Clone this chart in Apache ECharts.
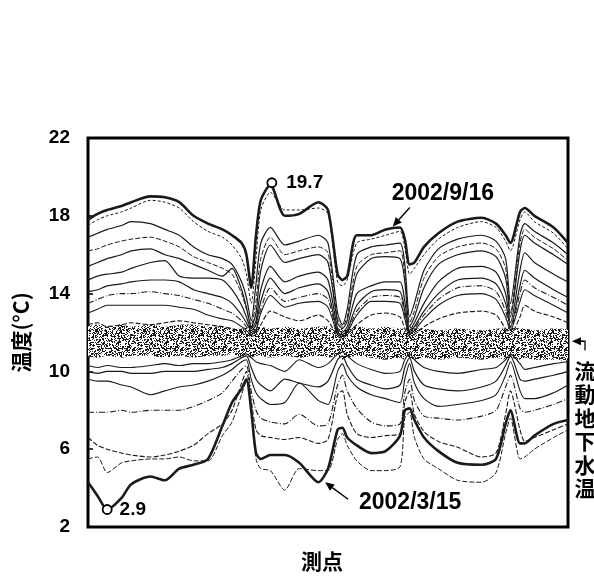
<!DOCTYPE html>
<html><head><meta charset="utf-8">
<script src="https://cdn.jsdelivr.net/npm/echarts@6/dist/echarts.min.js"></script>
<style>html,body{margin:0;padding:0;background:#fff}#c{width:594px;height:577px}</style>
</head><body><div id="c"></div><script>
// measurement point positions (0..100 along the section)
const points = [0,2,4,7,9,13,16,19,22,25,28,30,32,33,34,35,36,38,41,44,48,50,52,53,54,56,59,62,65,66,67,68,70,73,77,82,85,87,88,90,91,93,97,100];
const yTicks = [2,6,10,14,18,22];

// 2002/9/16 (summer maximum profile)
const sep16 = [17.8,18.1,18.3,18.5,18.7,19.0,18.95,18.7,18.0,17.6,17.3,17.0,16.6,16.0,14.3,17.0,18.8,19.6,18.0,18.1,18.7,18.3,15.0,14.7,14.9,17.0,17.0,17.3,17.4,16.8,15.5,15.6,16.4,17.1,17.7,17.9,17.6,17.0,16.6,18.2,18.4,18.0,17.4,16.6];
// 2002/3/15 (winter minimum profile)
const mar15 = [4.3,3.6,2.9,3.5,4.2,4.6,4.4,5.0,5.2,5.5,7.2,8.4,9.1,9.6,8.0,5.8,5.5,5.7,5.7,5.3,4.3,5.0,7.0,7.1,6.6,6.2,5.8,5.9,6.7,8.0,8.1,7.5,6.6,5.9,5.3,5.2,5.5,7.3,8.0,6.3,6.3,6.7,7.3,7.5];

// other warm-season profiles
const u1 = [17.5,17.8,18.0,18.2,18.4,18.8,18.7,18.4,17.7,17.2,16.9,16.5,15.8,15.0,13.5,15.8,18.3,19.2,18.3,18.3,18.4,18.1,14.6,14.4,14.7,16.6,16.8,17.0,17.2,16.4,15.0,15.3,16.0,16.8,17.4,17.7,17.4,16.7,16.2,17.8,18.2,17.7,17.1,16.3];
const u2 = [16.9,17.1,17.3,17.5,17.7,17.6,17.3,17.0,16.4,16.0,15.8,15.5,14.6,13.8,12.6,14.5,16.6,17.4,16.5,16.7,17.0,16.6,13.0,12.4,13.2,16.0,16.4,16.5,16.6,15.5,12.8,13.5,15.2,16.3,16.8,17.0,16.7,15.8,13.5,17.0,17.6,17.2,16.6,16.0];
const u2b = [16.2,16.3,16.5,16.7,16.8,16.9,16.7,16.4,15.9,15.6,15.3,15.0,14.0,13.2,12.4,13.6,15.8,16.9,16.0,16.2,16.4,16.1,12.7,12.3,12.8,15.4,16.0,16.1,16.2,15.0,12.5,13.1,14.8,15.9,16.4,16.6,16.3,15.3,13.0,16.6,17.3,16.9,16.3,15.7];
const u3 = [15.4,15.6,15.8,16.0,16.2,16.3,16.0,15.8,15.5,15.2,14.9,15.3,14.2,13.3,12.3,13.0,15.2,16.5,15.6,15.8,16.0,15.6,12.5,12.2,12.6,15.0,15.8,15.9,15.8,14.6,12.3,12.8,14.3,15.5,16.0,16.2,15.9,14.8,12.8,16.2,17.0,16.6,16.0,15.5];
const u4 = [14.7,14.9,15.0,15.1,15.3,15.6,15.7,14.9,14.8,14.8,14.7,14.2,13.4,12.8,12.2,12.6,14.2,15.4,14.6,14.9,15.1,14.7,12.2,12.0,12.3,14.0,14.4,14.6,14.6,13.6,12.1,12.5,13.5,14.6,15.3,15.4,15.1,14.0,12.5,15.2,16.1,15.6,15.0,14.6];
const u5 = [14.1,14.2,14.4,14.5,14.6,14.7,14.7,14.6,14.2,14.0,13.8,13.5,12.9,12.5,12.1,12.4,13.6,14.8,14.0,14.3,14.5,14.1,12.0,11.9,12.1,13.4,14.1,14.2,14.1,13.1,12.0,12.3,13.1,14.0,14.7,14.8,14.5,13.5,12.3,14.4,15.2,14.8,14.2,13.8];
const u5b = [13.5,13.7,13.9,14.0,14.0,14.1,14.0,13.9,13.7,13.5,13.2,13.0,12.6,12.3,12.0,12.2,13.2,14.3,13.6,13.8,14.0,13.7,11.9,11.8,12.0,13.1,13.8,13.9,13.8,12.9,11.9,12.2,12.9,13.7,14.3,14.4,14.1,13.1,12.2,14.0,14.7,14.3,13.8,13.4];
const u6 = [13.0,13.2,13.4,13.4,13.4,13.4,13.4,13.3,13.2,12.9,12.7,12.6,12.3,12.1,11.9,12.1,13.0,13.9,13.3,13.5,13.6,13.3,11.9,11.8,12.0,12.9,13.6,13.6,13.5,12.7,11.9,12.1,12.7,13.4,13.9,14.0,13.7,12.8,12.1,13.6,14.2,13.9,13.4,13.0];
const u7 = [12.4,12.5,12.3,12.4,12.5,12.4,12.5,12.6,12.5,12.4,12.3,12.2,12.0,11.9,11.8,11.9,12.4,13.1,12.8,12.6,12.9,12.6,11.8,11.7,11.9,12.4,12.9,13.0,12.8,12.2,11.8,11.9,12.3,12.7,13.0,13.1,12.9,12.2,11.9,12.8,13.4,13.1,12.8,12.5];

// other cold-season profiles
const l1 = [10.3,10.2,10.3,10.2,10.2,10.3,10.4,10.3,10.4,10.4,10.5,10.6,10.8,10.9,10.7,10.5,10.4,10.3,10.0,10.6,10.2,10.4,10.9,11.0,10.8,10.4,10.1,9.9,10.0,10.6,10.9,10.6,10.2,10.0,9.9,10.1,10.2,10.6,10.9,10.4,10.1,10.2,10.4,10.5];
const l2 = [10.0,9.9,10.0,10.0,9.9,9.9,10.0,10.0,10.0,10.1,10.2,10.4,10.7,10.8,10.2,9.6,9.3,9.0,9.6,9.4,9.2,9.5,10.6,10.8,10.3,9.6,9.3,9.1,9.3,10.2,10.7,10.0,9.3,9.1,9.0,9.2,9.5,10.3,10.8,9.6,9.5,9.6,9.8,10.0];
const l3 = [9.6,9.5,9.5,9.3,9.2,8.8,9.0,9.2,9.3,9.5,9.8,10.1,10.5,10.6,9.6,8.9,8.6,8.3,8.4,9.4,8.5,8.3,10.0,10.4,9.8,9.2,8.8,8.6,8.4,9.6,10.4,9.4,8.6,8.2,8.3,8.5,8.8,9.8,10.5,9.0,8.6,8.6,8.9,9.3];
const l4 = [7.9,7.9,7.9,8.0,7.9,8.0,8.0,8.0,8.2,8.5,8.9,9.5,10.1,10.3,9.0,8.0,7.6,7.4,7.3,7.8,7.2,7.3,9.3,9.8,9.0,8.1,7.4,7.2,7.3,8.9,9.6,8.5,7.7,7.6,7.5,7.7,8.0,9.2,9.8,8.1,7.9,8.0,8.3,8.6];
const l5 = [6.6,6.2,6.0,5.8,5.7,5.6,5.7,5.9,6.2,6.8,7.3,8.0,9.4,10.0,8.5,7.0,6.7,6.6,6.5,6.6,6.3,6.5,8.8,9.0,7.8,6.8,6.6,6.7,6.8,8.4,9.0,7.8,6.9,6.4,6.1,5.6,5.8,7.8,9.0,7.0,6.4,6.6,7.0,7.3];
const l6 = [5.5,5.6,4.8,5.3,5.4,5.5,5.5,5.6,5.4,5.4,6.7,7.4,8.8,9.5,8.0,5.5,5.0,4.9,3.9,5.0,4.9,4.9,6.5,6.8,6.2,5.4,4.9,4.9,5.1,7.6,7.9,6.6,5.5,5.0,4.4,4.3,4.8,6.8,7.6,5.5,5.6,6.0,6.6,7.0];

// dense band of flowing-groundwater temperature records
const bandTop = [12.3,12.4,12.3,12.4,12.3,12.4,12.3,12.4,12.4,12.3,12.3,12.2,12.2,12.3,12.4,12.3,12.3,12.2,12.3,12.2,12.3,12.3,12.2,12.3,12.2,12.3,12.2,12.3,12.2,12.2,12.3,12.2,12.2,12.1,12.2,12.1,12.2,12.2,12.3,12.2,12.2,12.1,12.2,12.1];
const bandBottom = [10.8,10.7,10.8,10.7,10.8,10.8,10.7,10.8,10.7,10.8,10.8,10.9,10.7,10.8,10.7,10.8,10.8,10.7,10.8,10.7,10.8,10.7,10.8,10.6,10.7,10.8,10.7,10.6,10.7,10.6,10.7,10.6,10.7,10.6,10.7,10.6,10.7,10.6,10.7,10.6,10.7,10.6,10.6,10.6];

// annotated extremes
const maxPoint = [38.3, 19.7];
const minPoint = [4, 2.9];
const sepArrowTip = [63.5, 17.45];
const marArrowTip = [49.4, 4.3];
const groundwaterLevel = 11.55;

function stipple() {
  const c = document.createElement('canvas');
  c.width = 48; c.height = 48;
  const g = c.getContext('2d');
  g.fillStyle = '#fff'; g.fillRect(0, 0, 48, 48);
  g.fillStyle = '#1a1a1a';
  for (let y = 0; y < 48; y++) for (let x = 0; x < 48; x++) {
    let h = Math.imul(x + 7, 374761393) ^ Math.imul(y + 3, 668265263);
    h = Math.imul(h ^ (h >>> 13), 1274126177); h ^= h >>> 16;
    if (((h >>> 0) % 100) < 42) g.fillRect(x, y, 1, 1);
  }
  return c;
}
const stippleCanvas = stipple();

const mk = arr => points.map((p, i) => [p, arr[i]]);
const FONT = '"Liberation Sans", Arial, sans-serif';
const CJK = '"Noto Sans CJK JP", "Noto Sans CJK SC", sans-serif';

function lineSeries(arr, width, type) {
  return {
    type: 'line', data: mk(arr), symbol: 'none', smooth: 0.25, silent: true, z: 3,
    lineStyle: { color: '#1a1a1a', width: width, type: type || 'solid' }
  };
}

const bandSeries = {
  type: 'custom', silent: true, z: 1, clip: true,
  data: [0],
  renderItem: function (params, api) {
    const pts = [];
    for (let i = 0; i < points.length; i++) pts.push(api.coord([points[i], bandTop[i]]));
    for (let i = points.length - 1; i >= 0; i--) pts.push(api.coord([points[i], bandBottom[i]]));
    return {
      type: 'polygon',
      shape: { points: pts, smooth: 0.2 },
      style: { fill: { image: stippleCanvas, repeat: 'repeat' }, stroke: null }
    };
  }
};

const series = [
  bandSeries,
  lineSeries(u7, 1.1, [5, 2]),
  lineSeries(u6, 1.1),
  lineSeries(u5b, 1.1, [6, 2, 1, 2]),
  lineSeries(u5, 1.2),
  lineSeries(u4, 1.2),
  lineSeries(u3, 1.2),
  lineSeries(u2b, 1.0, [5, 2]),
  lineSeries(u2, 1.2),
  lineSeries(u1, 1.0, [3, 2]),
  lineSeries(l1, 1.1),
  lineSeries(l2, 1.2),
  lineSeries(l3, 1.1),
  lineSeries(l4, 1.1, [6, 2, 1, 2]),
  lineSeries(l5, 1.1, [5, 2]),
  lineSeries(l6, 1.0, [5, 2]),
  lineSeries(sep16, 2.6),
  lineSeries(mar15, 2.6),
  { type: 'scatter', data: [maxPoint], symbol: 'circle', symbolSize: 9, z: 6, silent: true,
    itemStyle: { color: '#fff', borderColor: '#000', borderWidth: 1.8, opacity: 1 },
    label: { show: true, position: 'right', distance: 9, formatter: '19.7',
      fontFamily: FONT, fontWeight: 'bold', fontSize: 19, color: '#000', textBorderWidth: 0 } },
  { type: 'scatter', data: [minPoint], symbol: 'circle', symbolSize: 9, z: 6, silent: true,
    itemStyle: { color: '#fff', borderColor: '#000', borderWidth: 1.8, opacity: 1 },
    label: { show: true, position: 'right', distance: 7, formatter: '2.9',
      fontFamily: FONT, fontWeight: 'bold', fontSize: 19, color: '#000', textBorderWidth: 0 } }
];

const chart = echarts.init(document.getElementById('c'), null, { renderer: 'canvas' });
chart.setOption({
  animation: false,
  backgroundColor: '#fff',
  grid: { left: 88, right: 26, top: 138, bottom: 47, show: true, borderColor: '#000', borderWidth: 3, backgroundColor: 'transparent' },
  xAxis: {
    type: 'value', min: 0, max: 100,
    axisLine: { show: false }, axisTick: { show: false }, axisLabel: { show: false }, splitLine: { show: false },
    name: '測点', nameLocation: 'middle', nameGap: 24,
    nameTextStyle: { fontFamily: CJK, fontWeight: 'bold', fontSize: 21, color: '#000', padding: [0, 12, 0, 0] }
  },
  yAxis: {
    type: 'value', min: yTicks[0], max: yTicks[yTicks.length - 1], interval: 4,
    axisLine: { show: false }, splitLine: { show: false },
    axisTick: { show: true, inside: true, length: 5, lineStyle: { color: '#000', width: 1.5 } },
    axisLabel: { margin: 18, fontFamily: FONT, fontWeight: 'bold', fontSize: 19, color: '#000' },
    name: '温度(°C)', nameLocation: 'middle', nameRotate: 90, nameGap: 56,
    nameTextStyle: { fontFamily: CJK, fontWeight: 'bold', fontSize: 21, color: '#000' }
  },
  series: series
});

function px(p) { return chart.convertToPixel({ gridIndex: 0 }, p); }
function arrow(tail, tip, w) {
  const dx = tip[0] - tail[0], dy = tip[1] - tail[1];
  const L = Math.hypot(dx, dy), ux = dx / L, uy = dy / L;
  const hl = 9, hw = 4;
  const bx = tip[0] - ux * hl, by = tip[1] - uy * hl;
  return [
    { type: 'line', shape: { x1: tail[0], y1: tail[1], x2: bx, y2: by }, style: { stroke: '#000', lineWidth: w || 1.4 }, z: 10 },
    { type: 'polygon', shape: { points: [tip, [bx - uy * hw, by + ux * hw], [bx + uy * hw, by - ux * hw]] }, style: { fill: '#000' }, z: 10 }
  ];
}

const t1 = px(sepArrowTip), t2 = px(marArrowTip);
const gw = px([100, groundwaterLevel]);
const gwX = gw[0], gwY = gw[1];
const graphics = []
  .concat(arrow([t1[0] + 17, t1[1] - 19], t1))
  .concat(arrow([t2[0] + 23, t2[1] + 17], t2))
  .concat(arrow([gwX + 15, gwY], [gwX + 4, gwY], 1.3))
  .concat([
    { type: 'polyline', shape: { points: [[gwX + 14, gwY], [gwX + 17, gwY], [gwX + 17, gwY + 9]] }, style: { stroke: '#000', lineWidth: 1.3, fill: null }, z: 10 },
    { type: 'text', x: t1[0] + 50, y: t1[1] - 33, z: 10,
      style: { text: '2002/9/16', font: 'bold 23px ' + FONT, fill: '#000', align: 'center', verticalAlign: 'middle' } },
    { type: 'text', x: t2[0] + 85, y: t2[1] + 20, z: 10,
      style: { text: '2002/3/15', font: 'bold 23px ' + FONT, fill: '#000', align: 'center', verticalAlign: 'middle' } },
    { type: 'text', x: gwX + 17, y: gwY + 18, z: 10,
      style: { text: '流\n動\n地\n下\n水\n温', font: 'bold 21px ' + CJK, lineHeight: 23.5, fill: '#000', align: 'center', verticalAlign: 'top' } }
  ]);
chart.setOption({ graphic: graphics });
</script></body></html>
